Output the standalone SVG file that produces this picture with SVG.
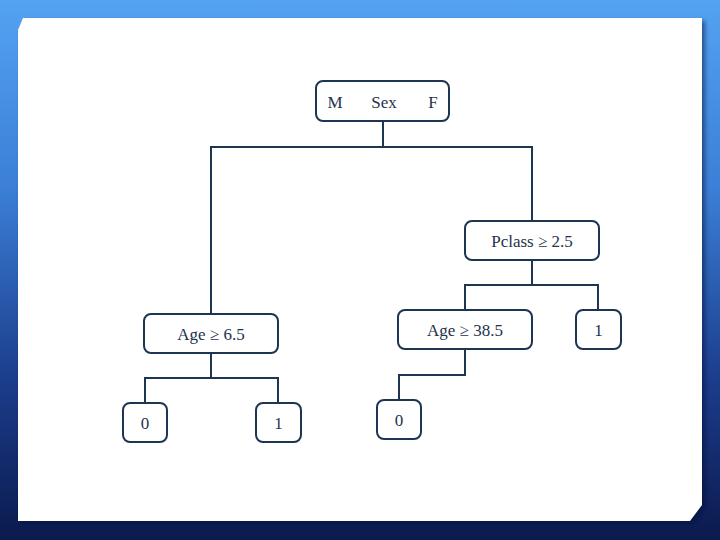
<svg xmlns="http://www.w3.org/2000/svg" width="720" height="540" viewBox="0 0 720 540">
  <defs>
    <linearGradient id="bg" x1="0" y1="0" x2="0" y2="1">
      <stop offset="0" stop-color="#54a2f2"/>
      <stop offset="0.35" stop-color="#3b7fd6"/>
      <stop offset="0.7" stop-color="#1c3d8c"/>
      <stop offset="1" stop-color="#0b1a4e"/>
    </linearGradient>
    <filter id="sh" x="-5%" y="-5%" width="110%" height="110%">
      <feGaussianBlur stdDeviation="2"/>
    </filter>
  </defs>
  <style>
    .node rect { fill: #ffffff; stroke: #1d3553; stroke-width: 2; }
    .node text { font-family: "Liberation Serif", "DejaVu Serif", serif; font-size: 17px; fill: #26324c; text-anchor: middle; }
    #connectors path { fill: none; stroke: #1d3553; stroke-width: 2; }
  </style>
  <rect x="0" y="0" width="720" height="540" fill="url(#bg)"/>
  <path d="M21,34 L26,21 L705,21 L705,508 L693,523 L21,523 Z" fill="#061030" opacity="0.5" filter="url(#sh)"/>
  <path d="M18,30 L23,18 L702,18 L702,505 L690,521 L18,521 Z" fill="#ffffff"/>

  <g id="connectors">
    <path d="M383,121 V147"/>
    <path d="M211,314 V147 H532 V221"/>
    <path d="M211,353 V378"/>
    <path d="M145,403 V378 H278 V403"/>
    <path d="M532,260 V285"/>
    <path d="M465,310 V285 H598 V310"/>
    <path d="M465,349 V375 H399 V400"/>
  </g>

  <g id="node-sex" class="node">
    <rect x="316" y="81" width="133" height="40" rx="7"/>
    <text x="335" y="108">M</text>
    <text x="384" y="108">Sex</text>
    <text x="433" y="108">F</text>
  </g>
  <g id="node-pclass" class="node">
    <rect x="465" y="221" width="134" height="39" rx="7"/>
    <text x="532" y="247">Pclass ≥ 2.5</text>
  </g>
  <g id="node-age65" class="node">
    <rect x="144" y="314" width="134" height="39" rx="7"/>
    <text x="211" y="340">Age ≥ 6.5</text>
  </g>
  <g id="node-age385" class="node">
    <rect x="398" y="310" width="134" height="39" rx="7"/>
    <text x="465" y="336">Age ≥ 38.5</text>
  </g>
  <g id="node-leaf-p1" class="node">
    <rect x="576" y="310" width="45" height="39" rx="7"/>
    <text x="598.5" y="336">1</text>
  </g>
  <g id="node-leaf-a0" class="node">
    <rect x="123" y="403" width="44" height="39" rx="7"/>
    <text x="145" y="429">0</text>
  </g>
  <g id="node-leaf-a1" class="node">
    <rect x="256" y="403" width="45" height="39" rx="7"/>
    <text x="278.5" y="429">1</text>
  </g>
  <g id="node-leaf-b0" class="node">
    <rect x="377" y="400" width="44" height="39" rx="7"/>
    <text x="399" y="426">0</text>
  </g>
</svg>
